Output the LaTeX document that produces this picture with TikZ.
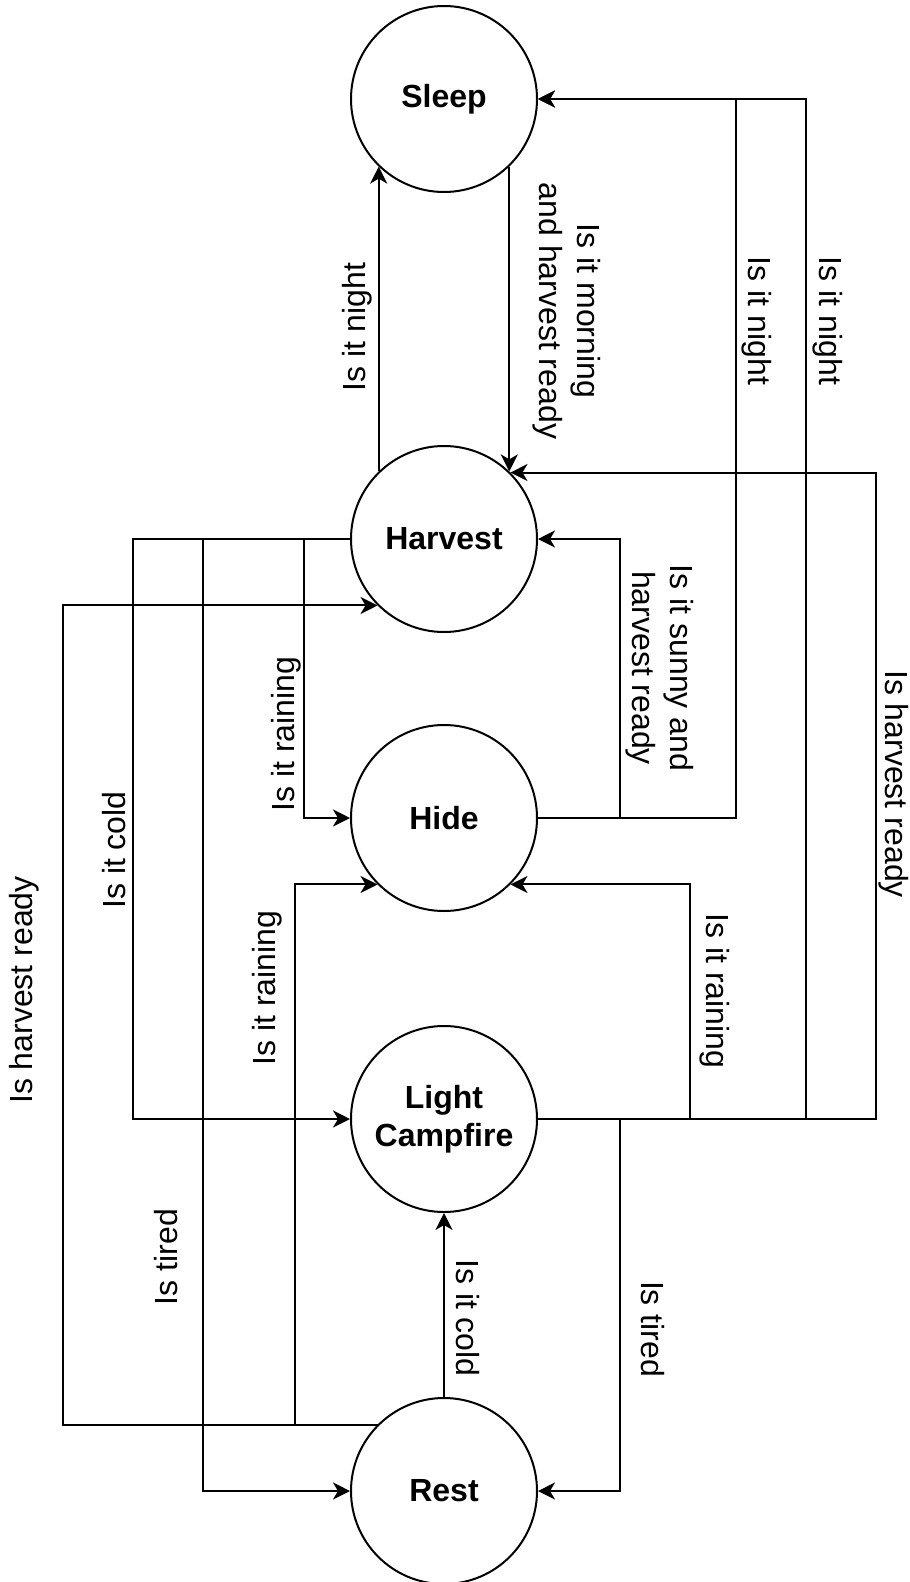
\documentclass[tikz,border=0pt]{standalone}
\usepackage{fontspec}
\setmainfont{Liberation Sans}
\usetikzlibrary{arrows.meta,calc}
\begin{document}
\begin{tikzpicture}[x=1pt,y=-1pt,
  state/.style={circle,draw,line width=2pt,minimum size=186pt,inner sep=0pt,
    font=\fontsize{32}{38.4}\selectfont\bfseries,align=center},
  conn/.style={line width=2pt,-{Stealth[length=17pt,width=17pt,inset=5pt]}},
  lbl/.style={font=\fontsize{32}{38.4}\selectfont,align=center,inner sep=0pt},
  lup/.style={lbl,rotate=90},
  ldn/.style={lbl,rotate=-90}]
\useasboundingbox (0,0) rectangle (910,1582);

\node[state] (sleep) at (444,99) {Sleep};
\node[state] (harvest) at (444,539) {Harvest};
\node[state] (hide) at (444,818) {Hide};
\node[state] (camp) at (444,1119) {Light\\Campfire};
\node[state] (rest) at (444,1491) {Rest};

\coordinate (xhr) at (876,0);
\coordinate (xcr) at (690,0);
\coordinate (xl) at (63,0);
\coordinate (xm) at (295,0);

% Harvest -> Sleep
\draw[conn] (harvest.134) -- (sleep.226);
% Sleep -> Harvest
\draw[conn] (sleep.-46) -- (harvest.46);
% Hide -> Sleep
\draw[conn] (hide.east) -| (736,99) -- (sleep.east);
% Campfire -> Sleep
\draw[conn] (camp.east) -| (806,99) -- (sleep.east);
% Campfire -> Harvest
\draw[conn] (camp.east) -| (harvest.45 -| xhr) -- (harvest.45);
% Hide -> Harvest
\draw[conn] (hide.east) -| (620,539) -- (harvest.east);
% Campfire -> Hide
\draw[conn] (camp.east) -| (hide.-45 -| xcr) -- (hide.-45);
% Campfire -> Rest
\draw[conn] (camp.east) -| (620,1491) -- (rest.east);
% Harvest -> Hide
\draw[conn] (harvest.west) -| (304,818) -- (hide.west);
% Harvest -> Campfire
\draw[conn] (harvest.west) -| (133,1119) -- (camp.west);
% Harvest -> Rest
\draw[conn] (harvest.west) -| (203,1491) -- (rest.west);
% Rest -> Campfire
\draw[conn] (rest.north) -- (camp.south);
% Rest -> Harvest
\draw[conn] (rest.135) -| (harvest.225 -| xl) -- (harvest.225);
% Rest -> Hide
\draw[conn] (rest.135) -| (hide.225 -| xm) -- (hide.225);

% labels
\node[lup] (l1) at (357,327) {Is it night};
\node[ldn] (l2) at (567,311) {Is it morning\\and harvest ready};
\node[ldn] (l3) at (757,321) {Is it night};
\node[ldn] (l4) at (828,321) {Is it night};
\node[ldn] (l5) at (660,668) {Is it sunny and\\harvest ready};
\node[ldn] (l6) at (894,784) {Is harvest ready};
\node[ldn] (l7) at (715,991) {Is it raining};
\node[lup] (l8) at (286,734) {Is it raining};
\node[lup] (l9) at (114,850) {Is it cold};
\node[lup] (l10) at (24,990) {Is harvest ready};
\node[lup] (l11) at (267,988) {Is it raining};
\node[lup] (l12) at (166,1257) {Is tired};
\node[ldn] (l13) at (468,1318) {Is it cold};
\node[ldn] (l14) at (653,1329) {Is tired};
\end{tikzpicture}
\end{document}
